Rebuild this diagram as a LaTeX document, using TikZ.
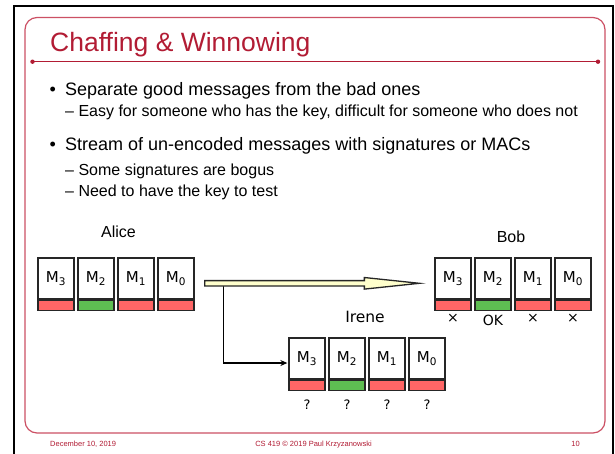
\documentclass[tikz,border=0pt]{standalone}
\usepackage{fontspec}
\setmainfont{Liberation Sans}
\newfontfamily\verd{DejaVu Sans}
\usetikzlibrary{calc,arrows.meta}

\definecolor{crimson}{RGB}{178,28,52}
\definecolor{framered}{RGB}{204,80,100}
\definecolor{badred}{RGB}{255,102,102}
\definecolor{goodgreen}{RGB}{94,190,82}
\definecolor{arrowfill}{RGB}{255,255,204}

\tikzset{
  msg/.style={draw=black!85, line width=1.3pt, fill=white, minimum width=36pt,
    minimum height=41pt, inner sep=0pt, font=\verd\fontsize{15}{15}\selectfont},
  sigbar/.style={draw=black!85, line width=1.3pt, minimum width=36pt,
    minimum height=10pt, inner sep=0pt},
  who/.style={inner sep=0pt, font=\fontsize{16}{16}\selectfont},
  verdict/.style={inner sep=0pt, font=\verd\fontsize{14}{14}\selectfont},
  txt/.style={anchor=base west, inner sep=0pt},
  big/.style={txt, font=\fontsize{18}{18}\selectfont},
  small/.style={txt, font=\fontsize{16}{16}\selectfont},
  foot/.style={inner sep=0pt, text=crimson, font=\fontsize{7.5}{7.5}\selectfont},
}

\begin{document}
\begin{tikzpicture}[x=1pt,y=-1pt]
\useasboundingbox (0,0) rectangle (615,453);
\clip (0,0) rectangle (615,453);
\fill[white] (0,0) rectangle (615,453);

% slide outline and content frame
\draw[line width=2pt] (13.5,6) rectangle (613,480);
\draw[framered, line width=1.2pt, rounded corners=12pt] (25,17.5) rectangle (605,433);

% title and rule
\node[txt, text=crimson, font=\fontsize{26.5}{26.5}\selectfont] (title) at (50,51.7) {Chaffing \& Winnowing};
\draw[crimson, line width=1pt] (32.5,61.7) -- (598,61.7);
\fill[crimson] (32.5,61.7) circle (2.2) (598,61.7) circle (2.2);

% bullet points
\node[big] (b1) at (49.5,95) {•};
\node[big] (t1) at (65,95) {Separate good messages from the bad ones};
\node[small] (t1a) at (65,116.7) {– Easy for someone who has the key, difficult for someone who does not};
\node[big] (b2) at (49.5,150.7) {•};
\node[big] (t2) at (65,150.7) {Stream of un-encoded messages with signatures or MACs};
\node[small] (t2a) at (65,175) {– Some signatures are bogus};
\node[small] (t2b) at (65,196.7) {– Need to have the key to test};

% message rows: white message box with its signature bar underneath
\foreach \i/\s/\c in {0/3/badred,1/2/goodgreen,2/1/badred,3/0/badred} {
  \node[msg] (a\s) at (56+40*\i,278.5) {M\textsubscript{\s}};
  \node[sigbar, fill=\c, anchor=north] (ab\s) at (a\s.south) {};
  \node[msg] (b\s) at (453+40*\i,278.5) {M\textsubscript{\s}};
  \node[sigbar, fill=\c, anchor=north] (bb\s) at (b\s.south) {};
  \node[msg] (i\s) at (307+40*\i,358.5) {M\textsubscript{\s}};
  \node[sigbar, fill=\c, anchor=north] (ib\s) at (i\s.south) {};
  \node[verdict, font=\verd\fontsize{13}{13}\selectfont] (q\s) at (307+40*\i,404.5) {?};
}

% party names
\node[who, anchor=base] (alice) at (118.5,237) {Alice};
\node[who, anchor=base] (bob) at (511,242) {Bob};
\node[verdict, anchor=base, font=\verd\fontsize{15.5}{15.5}\selectfont] (irene) at (365,322.7) {Irene};

% Bob's verdicts
\node[verdict] (v3) at (b3 |- 0,318.5) {×};
\node[verdict] (v2) at (b2 |- 0,320.5) {OK};
\node[verdict] (v1) at (b1 |- 0,318.5) {×};
\node[verdict] (v0) at (b0 |- 0,318.5) {×};

% eavesdropper branch
\coordinate (s) at ($(a0.east)+(10,4.8)$);
\coordinate (t) at ($(b3.west)+(-15,4.8)$);
\coordinate (br) at ($(s)+(19,0)$);
\coordinate (ie) at ($(i3.west)+(-1,4.5)$);
\draw[line width=1.2pt, -{Stealth[length=7pt,width=6pt]}] (br) |- (ie);

% main transmission arrow
\filldraw[fill=arrowfill, draw=black!85, line width=1.3pt]
  ($(s)+(0,-2.7)$) -- ($(t)+(-55,-2.7)$) -- ($(t)+(-55,-5.8)$) -- (t)
  -- ($(t)+(-55,5.8)$) -- ($(t)+(-55,2.7)$) -- ($(s)+(0,2.7)$) -- cycle;

% footer
\node[foot, anchor=base west] (date) at (50,446) {December 10, 2019};
\node[foot, anchor=base] (course) at (313.5,446) {CS 419 © 2019 Paul Krzyzanowski};
\node[foot, anchor=base] (page) at (575.5,446) {10};
\end{tikzpicture}
\end{document}
